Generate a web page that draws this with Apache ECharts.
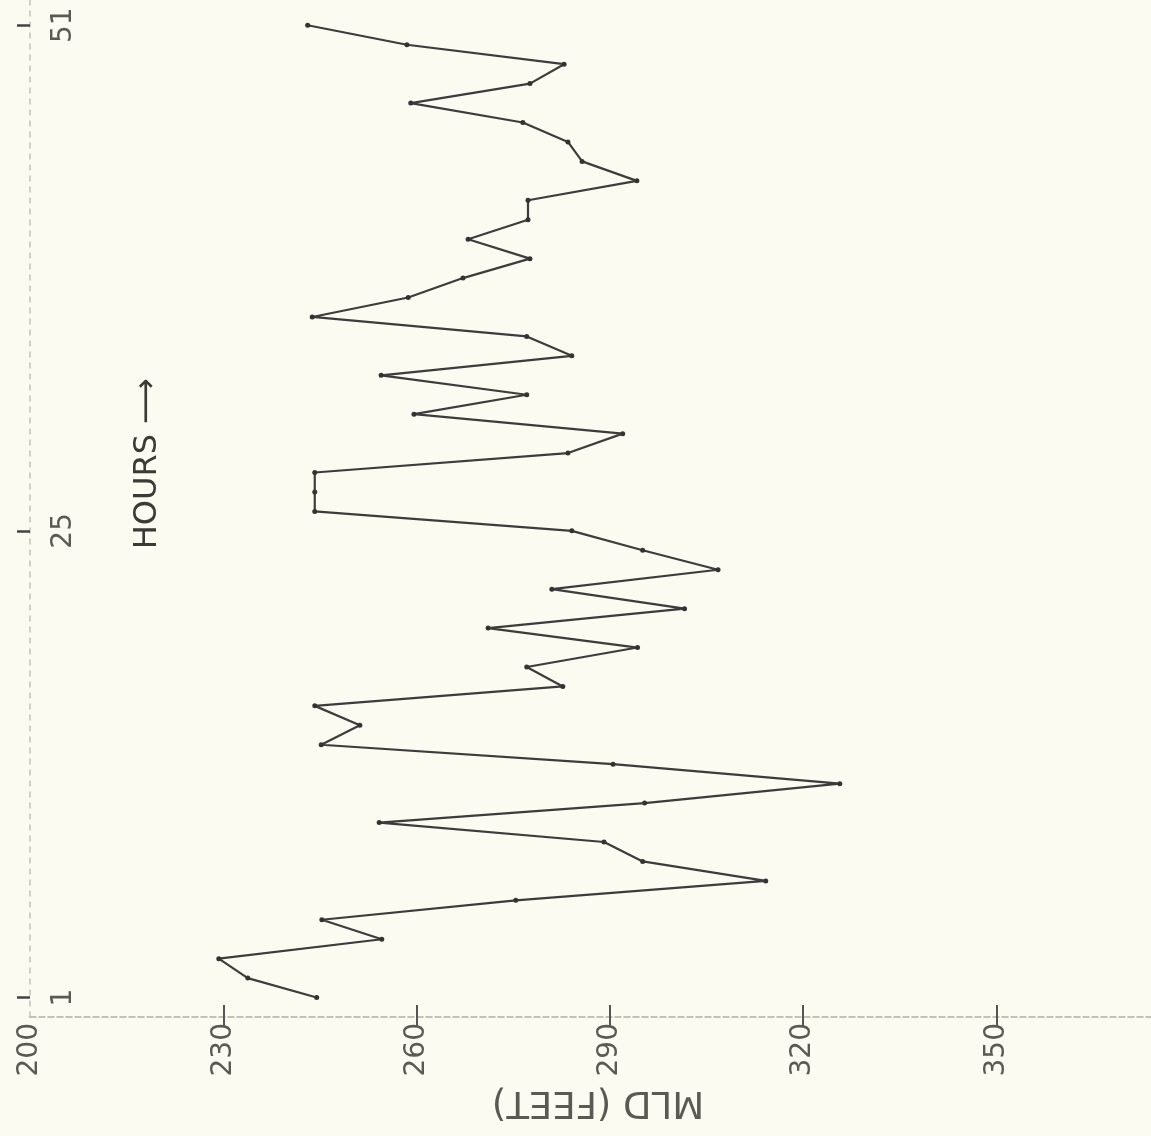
<!DOCTYPE html>
<html>
<head>
<meta charset="utf-8">
<style>
html,body{margin:0;padding:0;background:#fbfbf1;}
#chart{width:1151px;height:1136px;}
</style>
<script src="https://cdn.jsdelivr.net/npm/echarts@6/dist/echarts.min.js"></script>
</head>
<body>
<div id="chart"></div>
<script>
// Hours 1..51
var hours = [1,2,3,4,5,6,7,8,9,10,11,12,13,14,15,16,17,18,19,20,21,22,23,24,25,26,27,28,29,30,31,32,33,34,35,36,37,38,39,40,41,42,43,44,45,46,47,48,49,50,51];
// Mixed layer depth (feet)
var mld = [244.5,233.8,229.3,254.6,245.3,275.4,314.2,295.1,289.1,254.2,
           295.4,325.7,290.5,245.2,251.2,244.2,282.7,277.1,294.3,271.1,
           301.6,281.0,306.8,295.1,284.1,244.2,244.2,244.2,283.5,292.0,
           259.6,277.1,254.5,284.1,277.1,243.8,258.7,267.2,277.6,268.0,
           277.3,277.3,294.2,285.7,283.5,276.5,259.1,277.6,282.9,258.5,243.1];
var mldTicks = [200,230,260,290,320,350];
var hourTicks = [1,25,51];

var chart = echarts.init(document.getElementById('chart'));
var font = 'DejaVu Sans';
var txt = '#5a5a55';
chart.setOption({
  backgroundColor: '#fbfbf1',
  animation: false,
  grid: {left: 30, right: 0, top: 0, bottom: 119, containLabel: false},
  xAxis: [{
    type: 'value', min: 200, max: 374, position: 'bottom',
    splitLine: {show: false},
    axisLine: {show: true, lineStyle: {color: '#b0b0a8', width: 1.5, type: [6, 3]}},
    axisTick: {show: true, customValues: mldTicks.slice(1), length: 10, lineStyle: {color: '#555', width: 2}},
    axisLabel: {show: true, customValues: mldTicks, rotate: 90, margin: 6,
      fontFamily: font, fontSize: 28, color: txt}
  },{
    type: 'value', min: 200, max: 374, position: 'bottom',
    splitLine: {show: false},
    axisLine: {show: false},
    axisTick: {show: true, inside: true, customValues: mldTicks.slice(1), length: 12, lineStyle: {color: '#555', width: 2}},
    axisLabel: {show: false}
  }],
  yAxis: {
    type: 'value', min: 0, max: 52.3, position: 'left',
    splitLine: {show: false},
    axisLine: {show: true, lineStyle: {color: '#c4c4bc', width: 1.5, type: [5, 6]}},
    axisTick: {show: true, customValues: hourTicks, length: 13, lineStyle: {color: '#444', width: 2.5}},
    axisLabel: {show: true, customValues: hourTicks, inside: true, rotate: 90, margin: 20,
      fontFamily: font, fontSize: 28, color: txt}
  },
  graphic: [
    {type: 'text', left: 132, top: 378, rotation: Math.PI/2,
      style: {text: 'HOURS \u27F6', fontFamily: font, fontSize: 32, fill: '#3a3a36'}},
    {type: 'text', x: 598, y: 1102, rotation: Math.PI,
      style: {text: 'MLD (FEET)', fontFamily: font, fontSize: 37, fill: txt, align: 'center', verticalAlign: 'middle'}}
  ],
  series: [{
    type: 'line',
    data: hours.map(function(h, i){ return [mld[i], h]; }),
    symbol: 'circle', symbolSize: 5,
    itemStyle: {color: '#333'},
    lineStyle: {color: '#3c3c3c', width: 2.2}
  }]
});
</script>
</body>
</html>
